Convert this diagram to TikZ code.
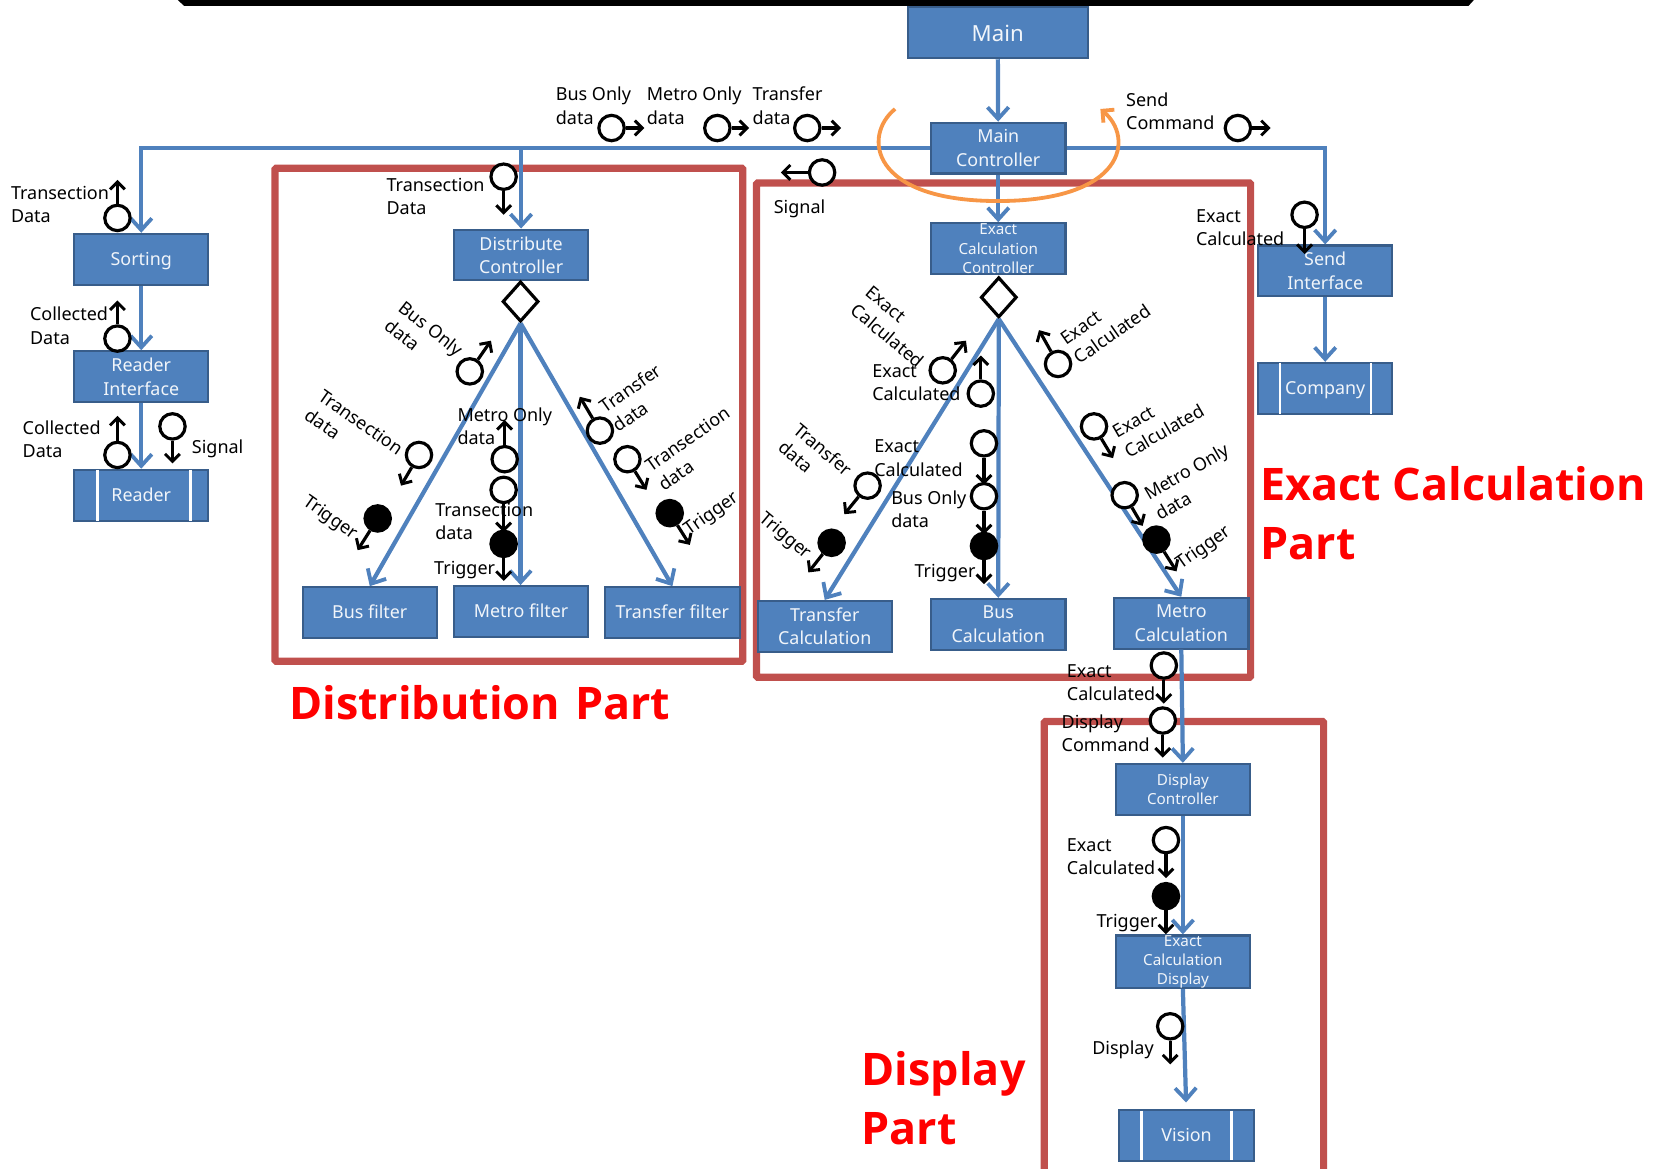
\documentclass[tikz,border=0pt]{standalone}
\usepackage{fontspec}
\setmainfont{Noto Sans}
\newfontfamily\bigfam{Open Sans}
\usetikzlibrary{arrows.meta,shapes.geometric}
\definecolor{boxfill}{HTML}{4F81BD}
\definecolor{boxline}{HTML}{385D8A}
\definecolor{frameR}{HTML}{C0504D}
\definecolor{orangeA}{HTML}{F79646}
\tikzset{
  box/.style={draw=boxline,fill=boxfill,line width=1pt,minimum width=63.5pt,minimum height=24pt,inner sep=0pt,align=center,text=white!92!boxfill,font=\fontsize{8.45}{11}\selectfont},
  smallbox/.style={box,font=\fontsize{7.2}{9}\selectfont},
  frameB/.style={draw=frameR,line width=3.4pt,rounded corners=0.5pt},
  flow/.style={draw=boxfill,line width=2pt,-{Straight Barb[length=5.5pt,width=10pt,line width=1.8pt]}},
  ring/.style={circle,draw=black,fill=white,line width=1.5pt,minimum size=12pt,inner sep=0pt},
  dot/.style={circle,draw=black,fill=black,line width=1.5pt,minimum size=12pt,inner sep=0pt},
  msgarrow/.style={draw=black,line width=1.5pt,-{Straight Barb[length=3.5pt,width=7pt,line width=1.4pt]}},
  lbl/.style={inner sep=0pt,align=left,yshift=-0.5pt,font=\fontsize{8.5}{11}\selectfont},
  big/.style={inner sep=0pt,anchor=west,align=left,text=red,font=\fontsize{21.2}{27.5}\bigfam\bfseries\selectfont},
  gate/.style={diamond,draw=black,fill=white,line width=1.5pt,minimum width=17pt,minimum height=19pt,inner sep=0pt,shape aspect=0.9}
}
\newcommand{\msg}[6][ring]{\coordinate (#2e) at (#5,#6);\node[#1] (#2) at (#3,#4) {};\draw[msgarrow] (#2) -- (#2e);}
\newcommand{\tl}[4]{\node[lbl,anchor=west] (#1) at (#2,#3) {#4};}
\newcommand{\rl}[5]{\node[lbl,rotate=#4] (#1) at (#2,#3) {#5};}
\newcommand{\dn}[2]{\raisebox{-#1pt}[0pt][0pt]{#2}}
\begin{document}
\begin{tikzpicture}[x=0.5pt,y=-0.5pt]
\useasboundingbox (0,0) rectangle (1568,1104);
\fill[black] (168,0) -- (1393,0) -- (1388,5.5) -- (174,5.5) -- cycle;
% frames
\draw[frameB] (260,159) rectangle (702,625);
\draw[frameB] (715,173) rectangle (1182,640);
\begin{scope}
\clip (0,0) rectangle (1568,1104);
\draw[frameB] (987,682) rectangle (1251,1110);
\end{scope}
% boxes
\node[box,minimum width=85pt,font=\fontsize{10.5}{12}\selectfont] (main) at (943,31) {\dn{4}{Main}};
\node[box] (mc) at (943.5,140) {Main\\Controller};
\node[smallbox] (ecc) at (943.5,235) {Exact\\Calculation\\Controller};
\node[box] (sort) at (133.5,245) {\dn{3}{Sorting}};
\node[box] (ri) at (133.5,356) {Reader\\Interface};
\node[box] (reader) at (133.5,468) {\dn{3}{Reader}};
\node[box] (dc) at (492.5,241) {Distribute\\Controller};
\node[box] (bf) at (349.5,579) {\dn{3}{Bus filter}};
\node[box] (mf) at (492.5,578) {\dn{3}{Metro filter}};
\node[box] (tf) at (635.5,579) {\dn{3}{Transfer filter}};
\node[box] (tc) at (779.5,592) {Transfer\\Calculation};
\node[box] (bc) at (943.5,590) {Bus\\Calculation};
\node[box] (metc) at (1116.5,589) {Metro\\Calculation};
\node[box] (si) at (1252.5,256) {Send\\Interface};
\node[box] (comp) at (1252.5,367) {\dn{3}{Company}};
\node[smallbox] (dispc) at (1118,746) {Display\\Controller};
\node[smallbox] (ecd) at (1118,909) {Exact\\Calculation\\Display};
\node[box] (vis) at (1121.5,1073) {\dn{3}{Vision}};
% white bars of the store boxes
\draw[white,line width=1.2pt] (92,444) -- (92,492) (180,444) -- (180,492);
\draw[white,line width=1pt] (1210,343) -- (1210,391) (1296,343) -- (1296,391);
\draw[white,line width=1.2pt] (1079,1050) -- (1079,1096) (1164,1050) -- (1164,1096);
% diamonds
\node[gate] (g1) at (492,285) {};
\node[gate] (g2) at (944,281) {};
% flows
\draw[flow] (main) -- (mc);
\draw[flow] (mc.west) -| (sort.north);
\draw[flow] (mc.east) -| (si.north);
\draw[flow] (dc.north |- mc.west) -- (dc.north);
\draw[flow] (mc) -- (ecc);
\draw[flow] (sort) -- (ri);
\draw[flow] (ri) -- (reader);
\draw[flow] (si) -- (comp);
\draw[flow] (g1.south) -- (bf.north);
\draw[flow] (g1.south) -- (g1.south |- mf.north);
\draw[flow] (g1.south) -- (tf.north);
\draw[flow] (g2.south) -- (tc.north);
\draw[flow] (g2.south) -- (bc.north);
\draw[flow] (g2.south) -- (metc.north);
\draw[flow] (metc.south) -- (dispc.north);
\draw[flow] (dispc.south) -- (ecd.north);
\coordinate (vt) at (1121,1042);
\draw[flow] (ecd.south) -- (vt);
% orange loop
\draw[orangeA,line width=1.8pt,-{Straight Barb[length=4pt,width=8pt]}] (846,103) .. controls (815,128) and (822,190) .. (943,190) .. controls (1064,190) and (1072,130) .. (1040,103);
% messages
\msg{a1}{578}{121}{609}{121}
\msg{a2}{678}{121}{708}{121}
\msg{a3}{763}{121}{795}{121}
\msg{a4}{1170}{121}{1201}{121}
\msg{a5}{777}{163}{738}{163}
\msg{b1}{111}{206}{111}{170}
\msg{b2}{111}{320}{111}{284}
\msg{b3}{111}{430}{111}{393}
\msg{b4}{163}{403}{163}{438}
\msg{c1}{476}{167}{476}{203}
\msg{c2}{444}{351}{464}{322}
\msg{c3}{567}{407}{548}{375}
\msg{c4}{593}{434}{611}{463}
\msg{c5}{396}{430}{379}{459}
\msg[dot]{c6}{357}{490}{338}{520}
\msg[dot]{c7}{633}{485}{652}{515}
\msg{c8}{477}{434}{477}{397}
\msg{c9}{476}{463}{476}{503}
\msg[dot]{c10}{476}{514}{476}{549}
\msg{d1}{1233}{203}{1233}{240}
\msg{d2}{891}{350}{913}{322}
\msg{d3}{927}{372}{927}{336}
\msg{d4}{1000}{344}{982}{312}
\msg{d5}{1034}{403}{1052}{433}
\msg{d6}{1063}{468}{1080}{497}
\msg[dot]{d7}{1093}{510}{1112}{540}
\msg{d8}{820}{459}{798}{486}
\msg[dot]{d9}{786}{513}{764}{541}
\msg{d10}{930}{419}{930}{458}
\msg{d11}{930}{469}{930}{505}
\msg[dot]{d12}{930}{516}{930}{552}
\msg{e1}{1100}{629}{1100}{665}
\msg{e2}{1099}{681}{1099}{716}
\msg{e3}{1102}{794}{1102}{830}
\msg[dot]{e4}{1102}{847}{1102}{883}
\msg{e5}{1106}{970}{1106}{1006}
% labels
\tl{ta1}{525}{99}{Bus Only\\data}
\tl{ta2}{611}{99}{Metro Only\\data}
\tl{ta3}{711}{99}{Transfer\\data}
\tl{ta4}{1064}{104}{Send\\Command}
\tl{ta5}{731}{196}{Signal}
\tl{tb1}{10}{192}{Transection\\Data}
\tl{tb2}{28}{307}{Collected\\Data}
\tl{tb3}{21}{414}{Collected\\Data}
\tl{tb4}{181}{423}{Signal}
\tl{tc1}{365}{185}{Transection\\Data}
\rl{tc2}{401}{318}{-38}{Bus Only\\data}
\rl{tc3}{602}{375}{35}{Transfer\\data}
\rl{tc4}{656}{423}{35}{Transection\\data}
\rl{tc5}{335}{407}{-35}{Transection\\data}
\rl{tc6}{312}{489}{-35}{Trigger}
\rl{tc7}{673}{485}{35}{Trigger}
\tl{tc8}{432}{402}{Metro Only\\data}
\tl{tc9}{411}{492}{Transection\\data}
\tl{tc10}{410}{538}{Trigger}
\tl{td1}{1130}{214}{Exact\\Calculated}
\rl{td2}{846}{308}{-40}{Exact\\Calculated}
\tl{td3}{824}{361}{Exact\\Calculated}
\rl{td4}{1045}{306}{35}{Exact\\Calculated}
\rl{td5}{1095}{397}{30}{Exact\\Calculated}
\rl{td6}{1127}{454}{30}{Metro Only\\data}
\rl{td7}{1138}{517}{35}{Trigger}
\rl{td8}{771}{432}{-40}{Transfer\\data}
\rl{td9}{742}{506}{-40}{Trigger}
\tl{td10}{826}{432}{Exact\\Calculated}
\tl{td11}{842}{480}{Bus Only\\data}
\tl{td12}{864}{541}{Trigger}
\tl{te1}{1008}{644}{Exact\\Calculated}
\tl{te2}{1003}{692}{Display\\Command}
\tl{te3}{1008}{809}{Exact\\Calculated}
\tl{te4}{1036}{871}{Trigger}
\tl{te5}{1032}{991}{Display}
% part titles
\node[big] (p1) at (273,664) {Distribution\ \hspace{1.5pt}Part};
\node[big] (p2) at (1191,485) {Exact Calculation\\Part};
\node[big] (p3) at (814,1038) {Display\\Part};
\end{tikzpicture}
\end{document}
